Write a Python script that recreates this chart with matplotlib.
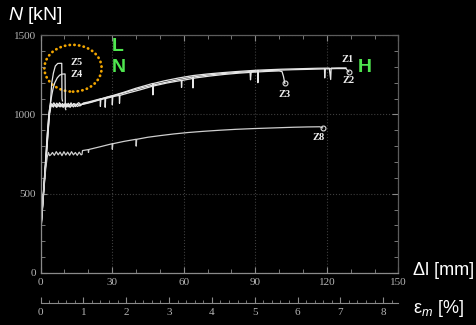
import matplotlib.pyplot as plt
from matplotlib.patches import Ellipse
from matplotlib.ticker import MultipleLocator

plt.rcParams['mathtext.fontset'] = 'custom'
plt.rcParams['mathtext.rm'] = 'Liberation Sans'
plt.rcParams['mathtext.it'] = 'Liberation Sans:italic'

# elongation dl [mm] -> strain [%]
GAUGE = 17.95

# specimen curves (dl [mm], N [kN])
z1_dl = [0.2, 0.8, 1.5, 2.3, 3.0, 3.6, 4.1, 4.5, 5.0, 5.6, 6.2, 6.8, 7.4, 8.0, 8.6, 9.2, 9.8,
         10.4, 11.0, 11.6, 12.2, 12.8, 13.4, 14.0, 15.0, 16.0, 17.0, 18.0, 20, 23, 25, 25.1,
         25.3, 28, 31, 35, 40, 44, 47, 47.1, 47.3, 52, 58, 64, 70, 76, 82, 88, 91, 91.1, 91.3,
         96, 101, 106, 111, 116, 121, 121.6, 121.8, 125, 128]
z1_n = [290, 420, 560, 720, 870, 990, 1055, 1068, 1060, 1073, 1055, 1071, 1058, 1074, 1052,
        1069, 1056, 1072, 1054, 1070, 1057, 1073, 1055, 1068, 1062, 1074, 1060, 1072, 1078,
        1090, 1098, 1050, 1098, 1110, 1122, 1140, 1165, 1182, 1195, 1123, 1195, 1212, 1230,
        1245, 1255, 1263, 1270, 1276, 1279, 1200, 1279, 1282, 1285, 1287, 1289, 1291, 1292,
        1220, 1292, 1293, 1293]

z2_dl = [0.3, 0.9, 1.6, 2.4, 3.1, 3.7, 4.2, 4.6, 5.2, 5.9, 6.5, 7.1, 7.8, 8.4, 9.1, 9.7,
         10.3, 11.0, 11.7, 12.4, 13.1, 13.8, 14.6, 15.5, 16.5, 17.5, 19, 22, 26, 30, 30.1,
         30.3, 34, 38, 43, 48, 53, 58, 63.8, 63.9, 64.1, 70, 76, 82, 87.8, 88.0, 88.3, 94,
         100, 106, 112, 117, 119, 119.1, 119.3, 124, 128, 129.2]
z2_n = [300, 430, 575, 735, 880, 1000, 1050, 1062, 1052, 1066, 1048, 1064, 1050, 1067, 1047,
        1063, 1051, 1066, 1048, 1064, 1052, 1067, 1049, 1065, 1053, 1066, 1070, 1082, 1100,
        1116, 1060, 1116, 1132, 1150, 1170, 1188, 1204, 1220, 1236, 1167, 1236, 1248, 1257,
        1264, 1270, 1218, 1270, 1276, 1279, 1282, 1284, 1286, 1287, 1230, 1287, 1289, 1289,
        1268]

z3_dl = [0.4, 1.0, 1.7, 2.5, 3.2, 3.8, 4.3, 4.7, 5.4, 6.1, 6.8, 7.5, 8.2, 8.9, 9.6, 10.3,
         11.0, 11.7, 12.4, 13.1, 13.8, 14.5, 15.5, 16.5, 18, 21, 24, 27, 27.1, 27.3, 31, 33,
         33.1, 33.3, 37, 42, 47, 53, 59, 59.1, 59.3, 65, 71, 77, 83, 89, 95, 100, 101.2,
         101.8, 102.4]
z3_n = [310, 440, 585, 745, 890, 1005, 1045, 1058, 1046, 1061, 1044, 1060, 1047, 1062, 1045,
        1059, 1046, 1061, 1044, 1060, 1047, 1062, 1050, 1061, 1064, 1075, 1088, 1100, 1045,
        1100, 1114, 1120, 1070, 1120, 1136, 1156, 1178, 1198, 1214, 1170, 1214, 1230, 1242,
        1252, 1260, 1266, 1271, 1274, 1270, 1240, 1195]

z4_dl = [0.3, 1.1, 2.0, 2.9, 3.6, 4.2, 4.7, 5.3, 6.0, 7.0, 8.0, 9.0, 10.3, 10.4, 10.6]
z4_n = [300, 470, 670, 880, 1010, 1070, 1120, 1165, 1200, 1230, 1247, 1254, 1255, 1040, 1030]

z5_dl = [0.2, 1.0, 1.9, 2.8, 3.5, 4.2, 4.7, 5.4, 6.2, 7.2, 8.0, 8.9, 9.0, 9.2]
z5_n = [290, 460, 660, 870, 1000, 1080, 1197, 1260, 1305, 1321, 1322, 1322, 1100, 1085]

z8_dl = [0.2, 0.8, 1.5, 2.2, 2.8, 3.3, 3.8, 4.3, 5.0, 5.8, 6.6, 7.4, 8.2, 9.0, 9.8, 10.6,
         11.4, 12.2, 13.0, 13.8, 14.6, 15.4, 16.2, 17.0, 17.4, 17.6, 20, 20.1, 20.3, 25, 30,
         30.1, 30.3, 35, 40, 40.1, 40.3, 45, 50, 56, 62, 68, 75, 82, 90, 98, 106, 112, 117,
         118.2]
z8_n = [290, 410, 540, 660, 730, 760, 740, 745, 760, 742, 765, 745, 762, 740, 765, 744, 762,
        742, 765, 745, 760, 742, 762, 745, 748, 772, 778, 760, 779, 796, 815, 780, 815, 830,
        843, 800, 843, 856, 866, 877, 886, 893, 900, 906, 911, 915, 919, 921, 922, 915]

# curve labels
lab_text = ['Z5', 'Z4', 'Z1', 'Z2', 'Z3', 'Z8']
lab_dl = [15.2, 15.2, 128.7, 128.9, 102.4, 116.4]
lab_n = [1327, 1249, 1344, 1211, 1128, 854]

# end-of-test markers
end_dl = [129.2, 102.4, 118.2]
end_n = [1268, 1195, 915]

fig = plt.figure(figsize=(4.76, 3.25), dpi=100, facecolor='black')
ax = fig.add_axes([0.0851, 0.16, 0.752, 0.732], facecolor='black')

curve_col = '#e6e6e6'
for dl, n in [(z3_dl, z3_n), (z2_dl, z2_n), (z1_dl, z1_n), (z4_dl, z4_n), (z5_dl, z5_n)]:
    ax.plot(dl, n, color=curve_col, lw=0.9)
ax.plot(z8_dl, z8_n, color='#cfcfcf', lw=0.9)
ax.plot(end_dl, end_n, 'o', ms=3.5, mfc='none', mec='#dddddd', mew=0.8)

for t, x, y in zip(lab_text, lab_dl, lab_n):
    ax.text(x, y, t, color='#eeeeee', fontsize=7.5, fontweight='bold',
            family='Liberation Serif', ha='center', va='center')

ax.add_patch(Ellipse((13.6, 1291), 24, 295, fill=False, ec='#f2a600', lw=2,
                     ls=(0, (0.1, 1.6)), capstyle='round', clip_on=False))

green = '#4fe64f'
for t, x, y in [('L', 32.5, 1426), ('N', 32.7, 1293), ('H', 136, 1298)]:
    ax.text(x, y, t, color=green, fontsize=14, fontweight='bold',
            family='Liberation Sans', ha='center', va='center')

ax.set_xlim(0, 150)
ax.set_ylim(0, 1500)
ax.set_xticks([0, 30, 60, 90, 120, 150])
ax.set_yticks([0, 500, 1000, 1500])
ax.xaxis.set_minor_locator(MultipleLocator(10))
ax.yaxis.set_minor_locator(MultipleLocator(100))
ax.grid(True, which='major', color='#3e3e3e', ls=':', lw=0.8)

spine_col = '#8a8a8a'
for s in ax.spines.values():
    s.set_color(spine_col)
    s.set_linewidth(0.9)
ax.spines['top'].set_color('#5c5c5c')
ax.spines['right'].set_color('#5c5c5c')
ax.tick_params(which='both', direction='in', top=True, right=True, colors=spine_col,
               labelcolor='#b5b5b5', labelsize=8)
ax.tick_params(which='major', length=4)
ax.tick_params(which='minor', length=3)
for lbl in ax.get_xticklabels() + ax.get_yticklabels():
    lbl.set_family('Liberation Serif')

sec = ax.secondary_xaxis(-0.126, functions=(lambda x: x / GAUGE, lambda e: e * GAUGE))
sec.set_xticks(range(0, 9))
sec.xaxis.set_minor_locator(MultipleLocator(0.2))
sec.spines['bottom'].set_color(spine_col)
sec.tick_params(which='both', direction='in', colors=spine_col, labelcolor='#b5b5b5',
                labelsize=8)
sec.tick_params(which='major', length=4)
sec.tick_params(which='minor', length=2.5)
for lbl in sec.get_xticklabels():
    lbl.set_family('Liberation Serif')

fig.text(0.017, 0.953, r'$N$ [kN]', color='white', fontsize=14, family='Liberation Sans',
         ha='left', va='center')
fig.text(0.868, 0.169, 'Δl [mm]', color='white', fontsize=13, family='Liberation Sans',
         ha='left', va='center')
fig.text(0.868, 0.052, r'ε$_m$ [%]', color='white', fontsize=13, family='Liberation Sans',
         ha='left', va='center')

fig.savefig('out.png', dpi=100, facecolor='black')
